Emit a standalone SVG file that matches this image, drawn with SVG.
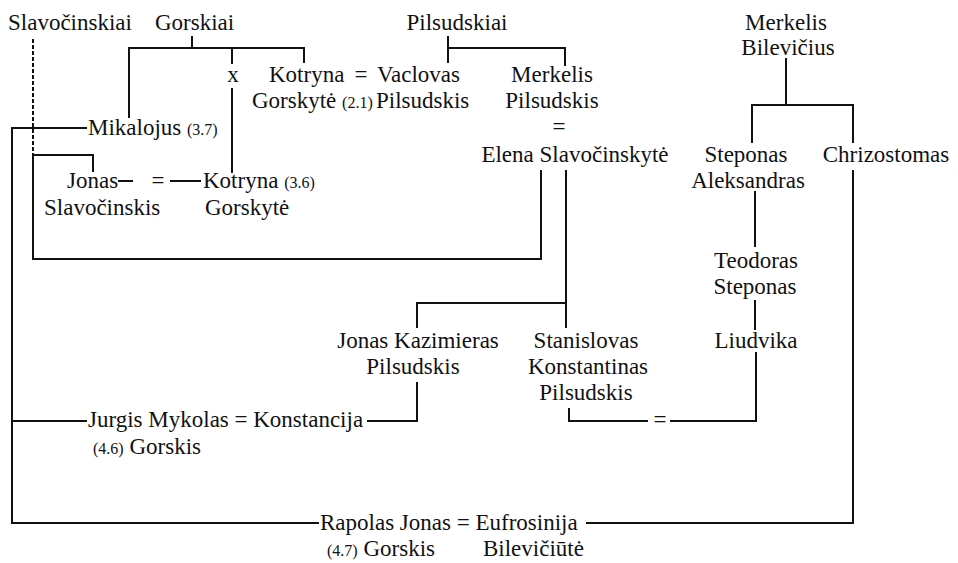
<svg xmlns="http://www.w3.org/2000/svg" width="958" height="563" viewBox="0 0 958 563">
<style>
text{font-family:"Liberation Serif","Tinos","Noto Serif","DejaVu Serif",serif;font-size:23px;fill:#111}
.s{font-size:16px}
.m{text-anchor:middle}
.ln{fill:none;stroke:#111;stroke-width:2;stroke-linejoin:miter;stroke-linecap:butt}
.d{stroke-dasharray:4 2}
</style>
<rect width="958" height="563" fill="#fff"/>
<g id="connectors">
<path class="ln d" d="M33,39 V155"/>
<path class="ln" d="M33,155 V259 H541 V170"/>
<path class="ln" d="M33,155 H93 V172"/>
<path class="ln" d="M192,36 V48"/>
<path class="ln" d="M129,118 V48 H304 V63"/>
<path class="ln" d="M232,48 V64"/>
<path class="ln" d="M232,88 V173"/>
<path class="ln" d="M118,181 H133"/>
<path class="ln" d="M170,181 H201"/>
<path class="ln" d="M448,36 V63"/>
<path class="ln" d="M448,48 H565 V66"/>
<path class="ln" d="M87,128 H12 V523 H319"/>
<path class="ln" d="M12,421 H87"/>
<path class="ln" d="M566,170 V328"/>
<path class="ln" d="M417,328 V303 H566"/>
<path class="ln" d="M417,382 V421 H367"/>
<path class="ln" d="M569,408 V421 H648"/>
<path class="ln" d="M670,421 H756 V352"/>
<path class="ln" d="M786,58 V105"/>
<path class="ln" d="M752,143 V105 H853 V143"/>
<path class="ln" d="M755,191 V247"/>
<path class="ln" d="M755,300 V330"/>
<path class="ln" d="M853,170 V523 H586"/>
</g>
<g id="slavocinskiai"><text x="8" y="30">Slavočinskiai</text></g>
<g id="gorskiai"><text x="155" y="30">Gorskiai</text></g>
<g id="pilsudskiai"><text x="457" y="30" class="m">Pilsudskiai</text></g>
<g id="merkelis-bilevicius"><text x="786" y="30" class="m">Merkelis</text><text x="788" y="55" class="m">Bilevičius</text></g>
<g id="x-mark"><text x="233" y="82" class="m">x</text></g>
<g id="kotryna-21"><text x="269" y="82">Kotryna</text><text x="252" y="108">Gorskytė <tspan class="s">(2.1)</tspan></text></g>
<g id="eq-kv"><text x="361" y="82" class="m">=</text></g>
<g id="vaclovas"><text x="377" y="82">Vaclovas</text><text x="376" y="108">Pilsudskis</text></g>
<g id="merkelis-pilsudskis"><text x="552" y="82" class="m">Merkelis</text><text x="552" y="108" class="m">Pilsudskis</text><text x="559" y="134" class="m">=</text><text x="575" y="162" class="m">Elena Slavočinskytė</text></g>
<g id="mikalojus"><text x="88" y="135">Mikalojus <tspan class="s">(3.7)</tspan></text></g>
<g id="jonas-slavocinskis"><text x="67" y="188">Jonas</text><text x="44" y="215">Slavočinskis</text></g>
<g id="eq-jk"><text x="158" y="188" class="m">=</text></g>
<g id="kotryna-36"><text x="203" y="188">Kotryna <tspan class="s">(3.6)</tspan></text><text x="205" y="215">Gorskytė</text></g>
<g id="steponas-aleksandras"><text x="746" y="162" class="m">Steponas</text><text x="748" y="188" class="m">Aleksandras</text></g>
<g id="chrizostomas"><text x="886" y="162" class="m">Chrizostomas</text></g>
<g id="teodoras-steponas"><text x="756" y="268" class="m">Teodoras</text><text x="755" y="294" class="m">Steponas</text></g>
<g id="liudvika"><text x="756" y="348" class="m">Liudvika</text></g>
<g id="jonas-kazimieras"><text x="418" y="348" class="m">Jonas Kazimieras</text><text x="413" y="374" class="m">Pilsudskis</text></g>
<g id="stanislovas"><text x="586" y="348" class="m">Stanislovas</text><text x="588" y="374" class="m">Konstantinas</text><text x="586" y="400" class="m">Pilsudskis</text></g>
<g id="eq-sl"><text x="660" y="427" class="m">=</text></g>
<g id="jurgis"><text x="88" y="427">Jurgis Mykolas = Konstancija</text><text x="93" y="454"><tspan class="s">(4.6)</tspan> Gorskis</text></g>
<g id="rapolas"><text x="320" y="530">Rapolas Jonas = Eufrosinija</text><text x="327" y="556"><tspan class="s">(4.7)</tspan> Gorskis</text><text x="483" y="556">Bilevičiūtė</text></g>
</svg>
